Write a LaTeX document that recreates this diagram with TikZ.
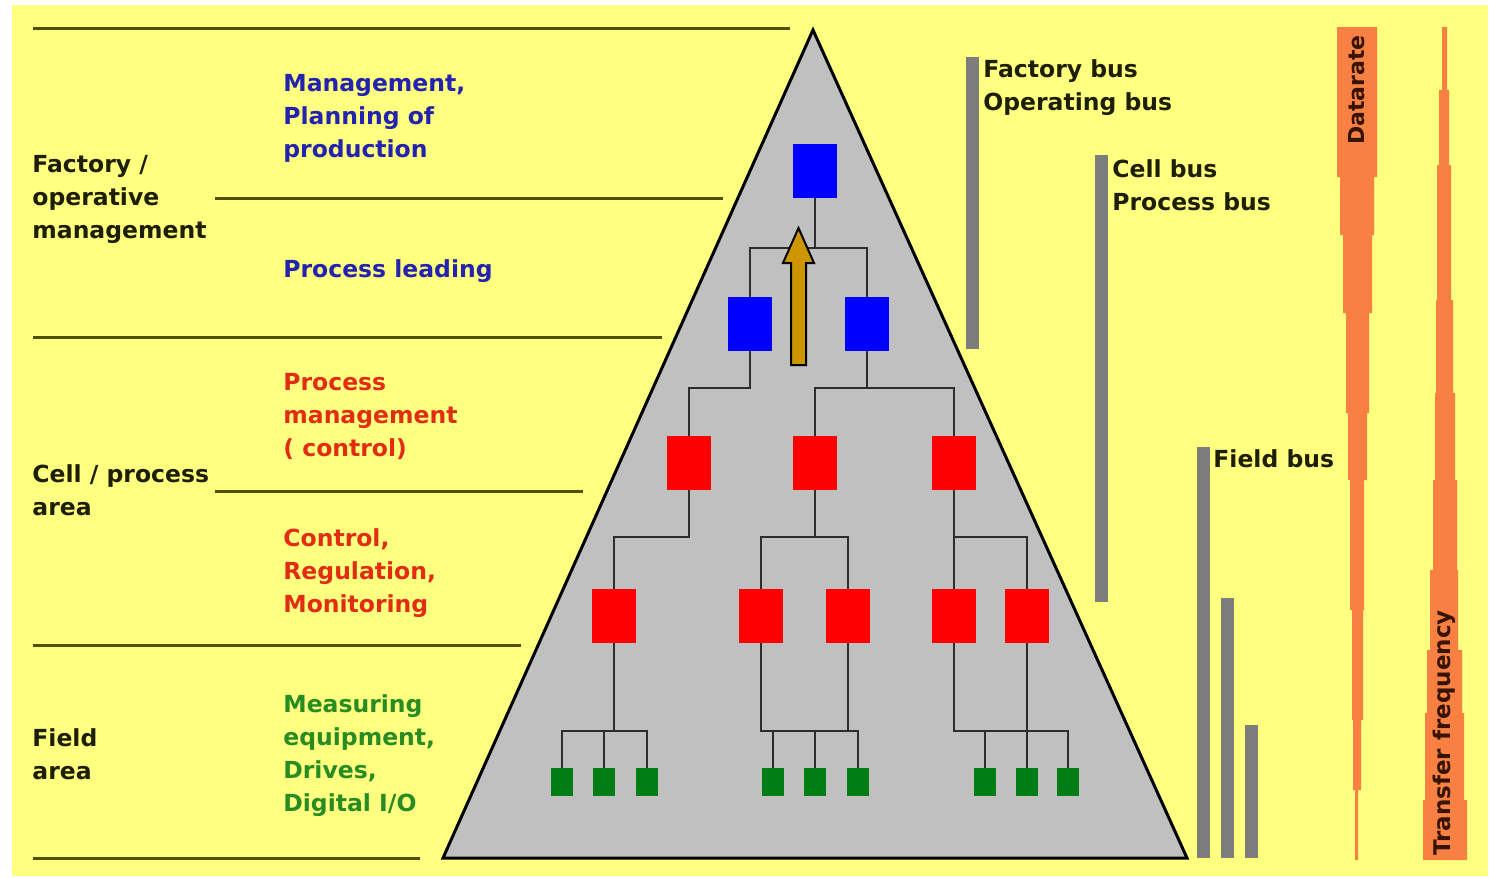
\documentclass[tikz,border=0pt]{standalone}
\usepackage{fontspec}
\setmainfont{DejaVu Sans}
\definecolor{bgyellow}{RGB}{255,255,128}
\definecolor{rulecol}{RGB}{80,80,10}
\definecolor{pyrgray}{RGB}{192,192,192}
\definecolor{wirecol}{RGB}{45,45,45}
\definecolor{mgmtblue}{RGB}{0,0,255}
\definecolor{ctrlred}{RGB}{255,0,0}
\definecolor{fieldgreen}{RGB}{0,125,20}
\definecolor{txtblack}{RGB}{30,30,0}
\definecolor{txtblue}{RGB}{35,35,175}
\definecolor{txtred}{RGB}{225,45,20}
\definecolor{txtgreen}{RGB}{40,140,35}
\definecolor{busgray}{RGB}{125,125,125}
\definecolor{barorange}{RGB}{247,128,66}
\definecolor{bartext}{RGB}{55,20,0}
\definecolor{arrowgold}{RGB}{205,150,0}
\begin{document}
\begin{tikzpicture}[x=0.5pt,y=-0.5pt,
  lvl/.style={draw=rulecol,line width=1.5pt},
  wire/.style={draw=wirecol,line width=1pt},
  bigsq/.style={rectangle,inner sep=0pt,minimum width=22pt,minimum height=27pt},
  smallsq/.style={rectangle,inner sep=0pt,minimum width=11pt,minimum height=14pt,fill=fieldgreen},
  mgmt/.style={bigsq,fill=mgmtblue},
  ctrl/.style={bigsq,fill=ctrlred},
  lbl/.style={inner sep=0pt,anchor=base west,align=left,font=\bfseries\fontsize{11.75}{16.5}\selectfont},
  bus/.style={fill=busgray},
  bar/.style={fill=barorange}]
\useasboundingbox (0,0) rectangle (1490,878);
\fill[white] (0,0) rectangle (1490,878);
\fill[bgyellow] (12,5) rectangle (1488,876);

% level rules on the left
\draw[lvl] (33,28) -- (790,28);
\draw[lvl] (215,198) -- (723,198);
\draw[lvl] (33,337) -- (662,337);
\draw[lvl] (215,491) -- (583,491);
\draw[lvl] (33,645) -- (521,645);
\draw[lvl] (33,858) -- (420,858);

% pyramid
\draw[fill=pyrgray,line width=1.5pt,line join=miter] (813,30) -- (1187,858) -- (443,858) -- cycle;

% bus level coordinates
\coordinate (L1) at (0,248);
\coordinate (L2) at (0,388);
\coordinate (L3) at (0,537);
\coordinate (L4) at (0,731);

% devices
\node[mgmt] (b1) at (815,171) {};
\node[mgmt] (b2l) at (750,324) {};
\node[mgmt] (b2r) at (867,324) {};
\node[ctrl] (r3a) at (689,463) {};
\node[ctrl] (r3b) at (815,463) {};
\node[ctrl] (r3c) at (954,463) {};
\node[ctrl] (r4a) at (614,616) {};
\node[ctrl] (r4b) at (761,616) {};
\node[ctrl] (r4c) at (848,616) {};
\node[ctrl] (r4d) at (954,616) {};
\node[ctrl] (r4e) at (1027,616) {};
\node[smallsq] (g1) at (562,782) {};
\node[smallsq] (g2) at (604,782) {};
\node[smallsq] (g3) at (647,782) {};
\node[smallsq] (g4) at (773,782) {};
\node[smallsq] (g5) at (815,782) {};
\node[smallsq] (g6) at (858,782) {};
\node[smallsq] (g7) at (985,782) {};
\node[smallsq] (g8) at (1027,782) {};
\node[smallsq] (g9) at (1068,782) {};

% wiring
\draw[wire] (b1.south) -- (b1.south |- L1) -| (b2l.north);
\draw[wire] (b1.south |- L1) -| (b2r.north);
\draw[wire] (b2l.south) -- (b2l.south |- L2) -| (r3a.north);
\draw[wire] (b2r.south) -- (b2r.south |- L2);
\draw[wire] (r3b.north) |- (r3c.north |- L2) -- (r3c.north);
\draw[wire] (r3a.south) -- (r3a.south |- L3) -| (r4a.north);
\draw[wire] (r3b.south) -- (r3b.south |- L3);
\draw[wire] (r4b.north) |- (r4c.north |- L3) -- (r4c.north);
\draw[wire] (r3c.south) -- (r4d.north);
\draw[wire] (r3c.south |- L3) -| (r4e.north);
\draw[wire] (r4a.south) -- (r4a.south |- L4);
\draw[wire] (g1.north) |- (g3.north |- L4) -- (g3.north);
\draw[wire] (g2.north) -- (g2.north |- L4);
\draw[wire] (r4b.south) |- (g6.north |- L4) -- (g6.north);
\draw[wire] (r4c.south) -- (r4c.south |- L4);
\draw[wire] (g4.north) -- (g4.north |- L4);
\draw[wire] (g5.north) -- (g5.north |- L4);
\draw[wire] (r4d.south) |- (g9.north |- L4) -- (g9.north);
\draw[wire] (r4e.south) -- (g8.north);
\draw[wire] (g7.north) -- (g7.north |- L4);

% upward information arrow
\draw[fill=arrowgold,line width=1pt,line join=miter]
  (791,365) -- (791,263) -- (783,263) -- (798.5,228) -- (814,263) -- (806,263) -- (806,365) -- cycle;

% level names (anchored at the baseline of the last line)
\node[lbl,text=txtblack] (nFactory) at (32,238) {Factory /\\operative\\management};
\node[lbl,text=txtblack] (nCell) at (32,515) {Cell / process\\area};
\node[lbl,text=txtblack] (nField) at (32,779) {Field\\area};

% tasks per level
\node[lbl,text=txtblue] (tPlan) at (283,157) {Management,\\Planning of\\production};
\node[lbl,text=txtblue] (tLead) at (283,277) {Process leading};
\node[lbl,text=txtred] (tProc) at (283,456) {Process\\management\\( control)};
\node[lbl,text=txtred] (tCtrl) at (283,612) {Control,\\Regulation,\\Monitoring};
\node[lbl,text=txtgreen] (tMeas) at (283,811) {Measuring\\equipment,\\Drives,\\Digital I/O};

% bus systems
\fill[bus] (966,57) rectangle (979,349);
\fill[bus] (1095,155) rectangle (1108,602);
\fill[bus] (1197,447) rectangle (1210,858);
\fill[bus] (1221,598) rectangle (1234,858);
\fill[bus] (1245,725) rectangle (1258,858);
\node[lbl,text=txtblack] (bFactory) at (983,110) {Factory bus\\Operating bus};
\node[lbl,text=txtblack] (bCell) at (1112,210) {Cell bus\\Process bus};
\node[lbl,text=txtblack] (bField) at (1213,467) {Field bus};

% data rate bar, narrowing downwards
\fill[bar] (1337,27) -- (1377,27) -- (1377,177) -- (1374,177) -- (1374,235) -- (1372,235)
  -- (1372,313) -- (1369,313) -- (1369,413) -- (1367,413) -- (1367,480) -- (1364,480)
  -- (1364,610) -- (1363,610) -- (1363,720) -- (1361,720) -- (1361,790) -- (1358,790)
  -- (1358,860) -- (1355,860) -- (1355,790) -- (1353,790) -- (1353,720) -- (1352,720)
  -- (1352,610) -- (1350,610) -- (1350,480) -- (1348,480) -- (1348,413) -- (1346,413)
  -- (1346,313) -- (1343,313) -- (1343,235) -- (1340,235) -- (1340,177) -- (1337,177) -- cycle;
\node[rotate=90,inner sep=0pt,text=bartext,font=\bfseries\fontsize{11}{13}\selectfont] (dr) at (1357,90) {Datarate};

% transfer frequency bar, widening downwards
\fill[bar] (1442,27) -- (1447,27) -- (1447,90) -- (1449,90) -- (1449,165) -- (1451,165)
  -- (1451,300) -- (1453,300) -- (1453,393) -- (1455,393) -- (1455,480) -- (1457,480)
  -- (1457,570) -- (1458,570) -- (1458,650) -- (1462,650) -- (1462,713) -- (1464,713)
  -- (1464,800) -- (1467,800) -- (1467,860) -- (1423,860) -- (1423,800) -- (1425,800)
  -- (1425,713) -- (1427,713) -- (1427,650) -- (1430,650) -- (1430,570) -- (1433,570)
  -- (1433,480) -- (1435,480) -- (1435,393) -- (1436,393) -- (1436,300) -- (1437,300)
  -- (1437,165) -- (1439,165) -- (1439,90) -- (1442,90) -- cycle;
\node[rotate=90,inner sep=0pt,text=bartext,font=\bfseries\fontsize{11.5}{13}\selectfont] (tf) at (1444,733) {Transfer frequency};
\end{tikzpicture}
\end{document}
